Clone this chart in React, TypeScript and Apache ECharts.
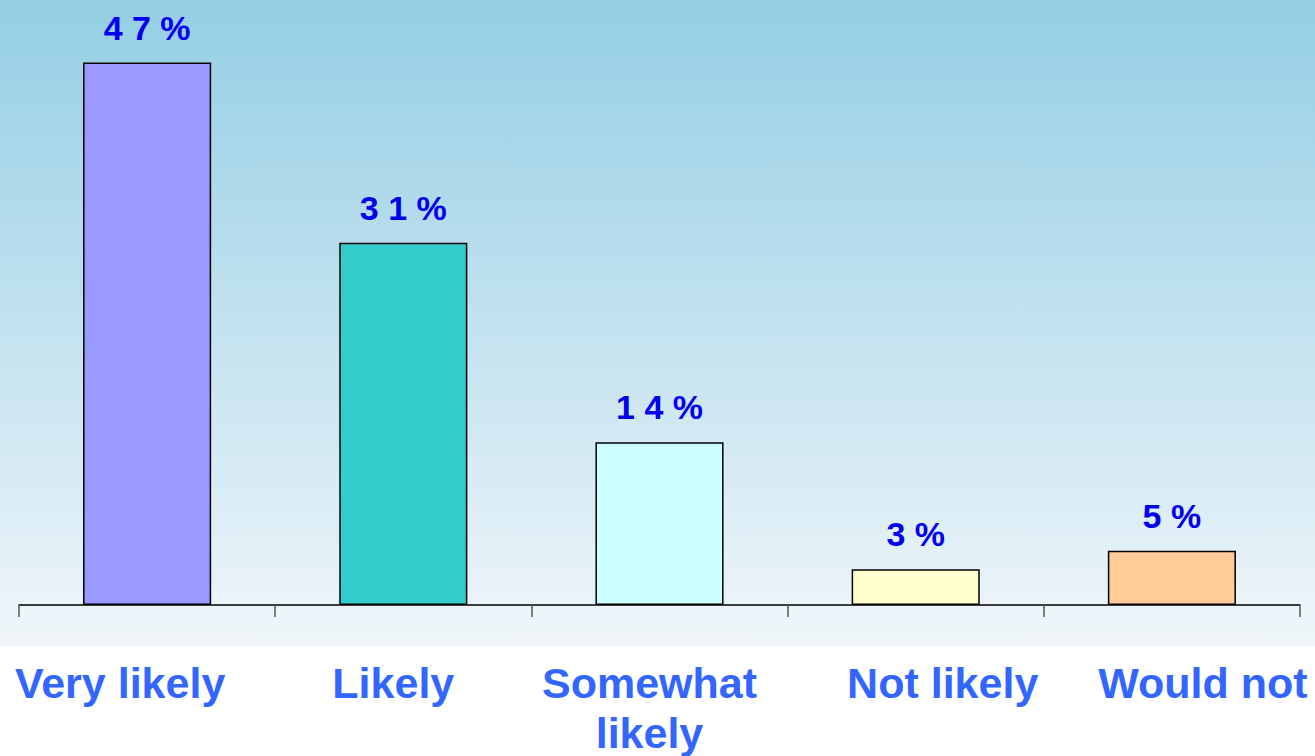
import React, { useEffect, useRef } from "react";
import * as echarts from "echarts";

const categories = ["Very likely", "Likely", "Somewhat\nlikely", "Not likely", "Would not"];
const values = [47, 31.4, 14.1, 3.1, 4.7];
const barColors = ["#9999ff", "#33cccc", "#ccffff", "#ffffcc", "#ffcc99"];
// horizontal nudges for the category labels (px, negative = left)
const labelShift = [-27, -10, -10, 27, 31];

export default function App() {
  const ref = useRef<HTMLDivElement>(null);
  useEffect(() => {
    if (!ref.current) return;
    const chart = echarts.init(ref.current, null, { renderer: "svg" });
    const rich: Record<string, any> = {};
    labelShift.forEach((s, i) => {
      rich["c" + i] = {
        fontFamily: "Arial, 'Liberation Sans', sans-serif",
        fontWeight: "bold",
        fontSize: 43,
        lineHeight: 50,
        color: "#3366ff",
        padding: s < 0 ? [0, -2 * s, 0, 0] : [0, 0, 0, 2 * s],
      };
    });
    chart.setOption({
      animation: false,
      backgroundColor: "#ffffff",
      graphic: [
        {
          type: "rect",
          z: -10,
          silent: true,
          shape: { x: 0, y: 0, width: 1315, height: 646 },
          style: {
            fill: new echarts.graphic.LinearGradient(0, 0, 0, 1, [
              { offset: 0, color: "#94cee4" },
              { offset: 0.5, color: "#c2e2ef" },
              { offset: 1, color: "#f0f6fa" },
            ]),
          },
        },
      ],
      grid: { left: 19, right: 15, top: 28, bottom: 151, containLabel: false },
      xAxis: {
        type: "category",
        data: categories,
        axisLine: { show: true, lineStyle: { color: "#000000", width: 1.5 } },
        axisTick: { show: true, alignWithLabel: false, interval: 0, length: 12, lineStyle: { color: "#555555", width: 1.5 } },
        axisLabel: {
          interval: 0,
          margin: 53,
          formatter: (v: string) => {
            const i = categories.indexOf(v);
            return v
              .split("\n")
              .map((line) => `{c${i}|${line}}`)
              .join("\n");
          },
          rich,
        },
      },
      yAxis: { type: "value", min: 0, max: 50, show: false, splitLine: { show: false } },
      series: [
        {
          type: "bar",
          barWidth: "50%",
          data: values.map((v, i) => ({
            value: v,
            itemStyle: { color: barColors[i], borderColor: "#000000", borderWidth: 1.5 },
          })),
          label: {
            show: true,
            position: "top",
            distance: 18,
            fontFamily: "Arial, 'Liberation Sans', sans-serif",
            fontWeight: "bold",
            fontSize: 34,
            color: "#0000ee",
            formatter: (p: any) => (String(Math.round(p.value)) + "%").split("").join(" "),
          },
        },
      ],
    });
    return () => chart.dispose();
  }, []);
  return (
    <div
      ref={ref}
      style={{ position: "fixed", left: 0, top: 0, width: 1315, height: 756 }}
    />
  );
}
